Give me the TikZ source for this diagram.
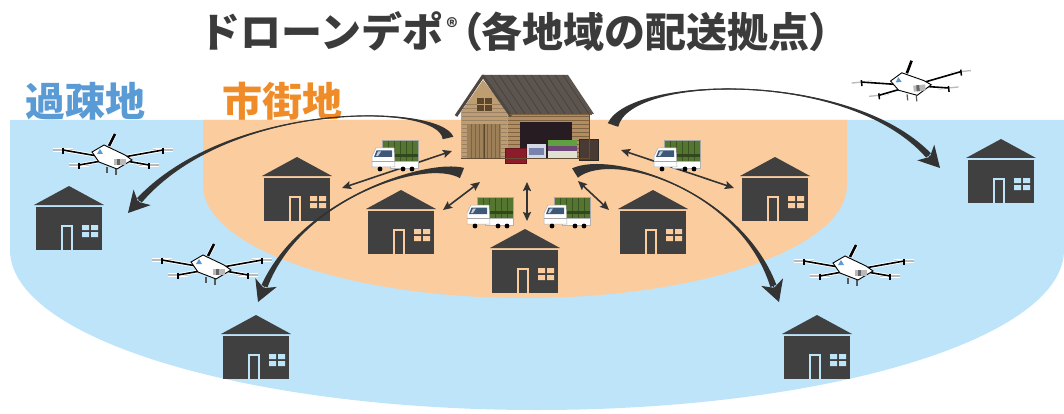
\documentclass[tikz,border=0pt]{standalone}
\usepackage{fontspec}
\newfontfamily\jp{Noto Sans CJK JP}
\newfontfamily\jpp{Noto Sans CJK JP}[RawFeature=+palt]
\usetikzlibrary{calc,arrows.meta}

\definecolor{bluebg}{RGB}{190,228,250}
\definecolor{orangebg}{RGB}{251,204,158}
\definecolor{housecol}{RGB}{64,64,64}
\definecolor{routecol}{RGB}{51,51,51}
\definecolor{titlecol}{RGB}{59,59,59}
\definecolor{ruralcol}{RGB}{91,155,213}
\definecolor{urbancol}{RGB}{240,140,40}
\definecolor{wood}{RGB}{176,142,98}
\definecolor{woodlight}{RGB}{190,158,112}
\definecolor{wooddark}{RGB}{128,98,64}
\definecolor{roofcol}{RGB}{92,84,78}
\definecolor{garagecol}{RGB}{38,28,34}
\definecolor{truckgreen}{RGB}{84,118,48}
\definecolor{winblue}{RGB}{62,88,120}
\definecolor{pkgred}{RGB}{140,28,42}
\definecolor{pkgreddark}{RGB}{100,20,30}
\definecolor{pkgwhite}{RGB}{212,216,228}
\definecolor{pkgblue}{RGB}{120,130,170}
\definecolor{pkggreen}{RGB}{96,160,64}
\definecolor{pkgpurple}{RGB}{110,70,120}
\definecolor{pkgcream}{RGB}{225,225,210}
\definecolor{pkgbrown}{RGB}{74,58,52}
\definecolor{pkgbrowndark}{RGB}{50,40,36}

\tikzset{
  house/.pic={
    \fill[housecol] (0,19) -- (35,0) -- (70,19) -- cycle;
    \fill[housecol] (2,21) rectangle (68,64);
    \fill[#1] (27,39) rectangle (39,64);
    \fill[housecol] (29,41) rectangle (37,64);
    \fill[#1] (48,39) rectangle (55,44) (57,39) rectangle (64,44)
              (48,46) rectangle (55,51) (57,46) rectangle (64,51);
    \node[inner sep=0, minimum width=70pt, minimum height=64pt] (-box) at (35,32) {};
  },
  truck/.pic={
    \fill[truckgreen, draw=gray!70, line width=0.5] (10,0) rectangle (46,23);
    \foreach \xx in {16,22,...,44} \draw[truckgreen!70!black, line width=0.6] (\xx,1) -- (\xx,22);
    \fill[truckgreen!60!black] (10,14) rectangle (46,17);
    \fill[white, draw=gray!60, line width=0.5] (18,21) rectangle (46,28);
    \fill[white, draw=gray!60, line width=0.5] (0,27) -- (0,16) -- (4,8) -- (22,8) -- (23,27) -- cycle;
    \fill[winblue] (2,17) -- (4.5,10.5) -- (20,10.5) -- (20,17) -- cycle;
    \fill[white!70!winblue] (6,11.5) -- (9,11.5) -- (6,16) -- (4,16) -- cycle;
    \draw[gray!70, line width=0.5] (0,21) -- (23,21);
    \fill[black] (8,29) circle (2.4) (31,29) circle (2.4) (40,29) circle (2.4);
    \node[inner sep=0, minimum width=46pt, minimum height=32pt] (-box) at (23,16) {};
  },
  drone/.pic={
    \foreach \px/\py in {-48/-7,52/-7,-32/8,38/8} {
      \draw[white, line width=3.2] (\px-10,\py) -- (\px+10,\py);
      \draw[gray!55, line width=1.3] (\px-10,\py) -- (\px+10,\py);
    }
    \draw[white, line width=3.4] (-48,-7) -- (38,8) (-32,8) -- (52,-7);
    \draw[black, line width=1.6] (-48,-7) -- (38,8) (-32,8) -- (52,-7);
    \foreach \px/\py in {-48/-7,52/-7,-32/8,38/8}
      \draw[black, line width=1.5] (\px,\py-2) -- (\px,\py+4);
    \draw[gray!70!black, line width=1.2] (-4,10) -- (-4,16) (5,12) -- (5,18);
    \filldraw[fill=white, draw=black, line width=0.9]
      (-19,-5) -- (-7,-12) -- (14,-2) -- (21,3) -- (6,12) -- (-12,5) -- cycle;
    \fill[gray!55] (3,2) rectangle (15,8);
    \fill[gray!80!black] (6,2) rectangle (9,8);
    \draw[white, line width=4] (-2,-11) -- (4,-23);
    \draw[black, line width=2.6] (-2,-11) -- (4,-23);
    \fill[ruralcol] (-14,-3) -- (-11,-8) -- (-8,-3) -- cycle;
    \node[inner sep=0, minimum width=110pt, minimum height=36pt] (-box) at (2,0) {};
  },
  shuttle/.style={routecol, line width=1.6,
    {Stealth[length=9pt,width=8pt,inset=1.5pt]}-{Stealth[length=9pt,width=8pt,inset=1.5pt]}},
}

% tapered flight route: start, control 1, control 2, tip
\newcommand\flightroute[4]{%
  \coordinate (rtE) at ($(#4)!17pt!(#3)$);
  \coordinate (rtSa) at ($(#1)!5.5pt!90:(#2)$);
  \coordinate (rtSb) at ($(#1)!5.5pt!-90:(#2)$);
  \coordinate (rtEa) at ($(rtE)!3.2pt!-90:(#3)$);
  \coordinate (rtEb) at ($(rtE)!3.2pt!90:(#3)$);
  \fill[routecol] (rtSa) .. controls (#2) and (#3) .. (rtEa) -- (rtEb)
     .. controls (#3) and (#2) .. (rtSb) -- cycle;
  \draw[routecol, line width=1.1] (#1) .. controls (#2) and (#3) .. (rtE);
  \draw[routecol, line width=1, -{Stealth[length=21pt,width=23pt,inset=6pt]}] (rtE) -- (#4);
}

\begin{document}
\begin{tikzpicture}[x=1pt,y=-1pt]
\useasboundingbox (0,0) rectangle (1064,414);

% service areas
\fill[bluebg] (10,120) -- (10,250)
  arc[start angle=180, end angle=0, x radius=527, y radius=160] -- (1064,120) -- cycle;
\fill[orangebg] (203,120) -- (203,185)
  arc[start angle=180, end angle=0, x radius=322, y radius=113] -- (847,120) -- cycle;

% headings
\node[font=\jp\bfseries\fontsize{41}{41}\selectfont, text=titlecol, inner sep=0] (title) at (515,32)
  {ドローンデポ\hspace{3pt}{\fontsize{22}{22}\selectfont\raisebox{12pt}{®}}\hspace{3pt}{\jpp\bfseries（}各地域の配送拠点{\jpp\bfseries）}};
\node[font=\jp\bfseries\fontsize{40}{40}\selectfont, text=ruralcol, inner sep=0] (rural) at (85,101) {過疎地};
\node[font=\jp\bfseries\fontsize{40}{40}\selectfont, text=urbancol, inner sep=0] (urban) at (282,101) {市街地};

% houses
\pic (hA) at (34,186) {house=bluebg};
\pic (hB) at (262,157) {house=orangebg};
\pic (hC) at (366,190) {house=orangebg};
\pic (hD) at (490,229) {house=orangebg};
\pic (hE) at (618,190) {house=orangebg};
\pic (hF) at (740,157) {house=orangebg};
\pic (hG) at (966,139) {house=bluebg};
\pic (hH) at (221,315) {house=bluebg};
\pic (hI) at (782,315) {house=bluebg};

% depot building
\node[inner sep=0, minimum width=142pt, minimum height=90pt] (depot) at (526,118) {};
\fill[wood] (508,112) rectangle (589,158);
\fill[woodlight] (461,158) -- (461,112) -- (483,80) -- (508,112) -- (508,158) -- cycle;
\foreach \yy in {116,120,...,156} \draw[wooddark, line width=0.4] (508,\yy) -- (589,\yy);
\foreach \yy in {104,108,...,156} \draw[wooddark!80, line width=0.4] (462,\yy) -- (507,\yy);
\fill[roofcol] (483,75) -- (568,75) -- (594,114) -- (509,114) -- cycle;
\foreach \k in {8,16,...,80} \draw[roofcol!70!black, line width=0.5] (483+\k,75) -- (509+\k,114);
\draw[roofcol!85!black, line width=3, line join=round] (456,116) -- (483,76) -- (511,116);
\draw[wooddark, line width=1.2] (510,114.5) -- (592,114.5);
\fill[wooddark!70!black] (477,98) rectangle (492,111);
\draw[woodlight, line width=0.8] (484.5,98) -- (484.5,111) (477,104.5) -- (492,104.5);
\fill[wood!90!black] (467,124) rectangle (501,158);
\foreach \xx in {471,475,...,499} \draw[wooddark, line width=0.5] (\xx,124) -- (\xx,158);
\draw[wooddark!70!black, line width=1] (484,124) -- (484,158);
\fill[garagecol] (520,122) rectangle (572,158);
\fill[pkgred, draw=pkgreddark, line width=0.6] (505,148) rectangle (526,163);
\fill[pkgwhite] (527,144) rectangle (546,159);
\fill[pkgblue] (529,148) rectangle (544,155);
\fill[pkggreen] (548,140) rectangle (577,146);
\fill[pkgpurple] (548,146) rectangle (577,151);
\fill[pkgcream] (548,151) rectangle (577,158);
\fill[pkgbrown, draw=pkgbrowndark, line width=0.6] (579,139) rectangle (598,160);
\draw[wooddark!80!black, line width=0.7] (461,158) -- (589,158) -- (589,113);

% ground shuttles between the depot and nearby homes
\coordinate (a1s) at (452,151); \coordinate (a1e) at (342,188);
\coordinate (a2s) at (480,182); \coordinate (a2e) at (443,210);
\coordinate (a3s) at (527,182); \coordinate (a3e) at (527,221);
\coordinate (a4s) at (578,181); \coordinate (a4e) at (609,210);
\coordinate (a5s) at (621,150); \coordinate (a5e) at (734,188);
\draw[shuttle] (a1s) -- (a1e);
\draw[shuttle] (a2s) -- (a2e);
\draw[shuttle] (a3s) -- (a3e);
\draw[shuttle] (a4s) -- (a4e);
\draw[shuttle] (a5s) -- (a5e);

% delivery trucks
\pic (t1) at (372,140) {truck};
\pic (t2) at (654,140) {truck};
\pic (t3) at (467,197) {truck};
\pic (t4) at (544,197) {truck};

% drones
\pic (d1) at (111,157) {drone};
\pic (d2) at (210,267) {drone};
\pic[rotate=6] (d3) at (910,84) {drone};
\pic (d4) at (852,268) {drone};

% flight routes to outlying homes
\coordinate (f1s) at (448,138); \coordinate (f1a) at (440,103);
\coordinate (f1b) at (230,100); \coordinate (f1e) at (128,213);
\coordinate (f2s) at (462,173); \coordinate (f2a) at (425,158);
\coordinate (f2b) at (300,200); \coordinate (f2e) at (258,302);
\coordinate (f3s) at (613,125); \coordinate (f3a) at (630,75);
\coordinate (f3b) at (850,70);  \coordinate (f3e) at (940,168);
\coordinate (f4s) at (575,173); \coordinate (f4a) at (612,150);
\coordinate (f4b) at (740,190); \coordinate (f4e) at (779,302);
\flightroute{f1s}{f1a}{f1b}{f1e}
\flightroute{f2s}{f2a}{f2b}{f2e}
\flightroute{f3s}{f3a}{f3b}{f3e}
\flightroute{f4s}{f4a}{f4b}{f4e}
\end{tikzpicture}
\end{document}
